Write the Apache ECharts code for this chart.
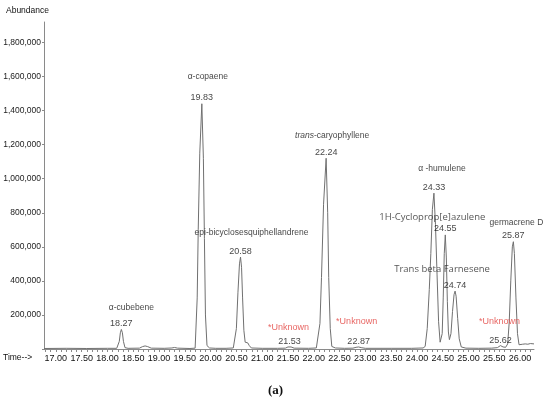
<!DOCTYPE html>
<html>
<head>
<meta charset="utf-8">
<script src="https://cdn.jsdelivr.net/npm/echarts@6/dist/echarts.min.js"></script>
<style>
  html, body { margin: 0; padding: 0; background: #fff; }
  #main { width: 550px; height: 405px; }
</style>
</head>
<body>
<div id="main"></div>
<script>
// retention time (min) and abundance of the trace
var traceTimes = [
  16.77, 17.2, 17.6, 18.0, 18.18,
  18.20, 18.23, 18.25, 18.27, 18.29, 18.31, 18.34, 18.40,
  18.62, 18.68, 18.73, 18.78, 18.85, 19.1, 19.25, 19.30, 19.36, 19.6, 19.70,
  19.71, 19.74, 19.76, 19.79, 19.83, 19.86, 19.88, 19.90, 19.93, 19.98,
  20.1, 20.3, 20.44,
  20.47, 20.50, 20.53, 20.56, 20.58, 20.60, 20.62, 20.645, 20.67, 20.70, 20.72, 20.75, 20.79,
  21.0, 21.3, 21.45, 21.50, 21.53, 21.56, 21.62, 21.9, 22.05,
  22.08, 22.12, 22.15, 22.19, 22.24, 22.27, 22.29, 22.32, 22.35, 22.42,
  22.6, 22.76, 22.82, 22.87, 22.92, 23.0, 23.5, 23.9, 24.12,
  24.16, 24.20, 24.24, 24.27, 24.30, 24.33, 24.36, 24.39, 24.42, 24.45, 24.47,
  24.49, 24.51, 24.53, 24.55, 24.57, 24.59, 24.61, 24.63,
  24.66, 24.69, 24.72, 24.74, 24.76, 24.79, 24.82, 24.86, 24.95,
  25.2, 25.45, 25.56, 25.62, 25.67, 25.72,
  25.76, 25.79, 25.82, 25.85, 25.87, 25.89, 25.92, 25.95, 25.98,
  26.0, 26.05, 26.1, 26.15, 26.2, 26.27
];
var traceAbundance = [
  3000, 4000, 3000, 4000, 4000,
  8000, 45000, 95000, 115000, 95000, 45000, 8000, 4000,
  5000, 14000, 18000, 14000, 5000, 4000, 6000, 9000, 5000, 3000, 5000,
  10000, 300000, 700000, 1150000, 1440000, 1120000, 650000, 200000, 20000, 6000,
  4000, 4000, 6000,
  15000, 120000, 330000, 500000, 540000, 480000, 300000, 110000, 40000, 35000, 36000, 20000, 6000,
  4000, 4000, 5000, 12000, 15000, 12000, 5000, 4000, 6000,
  15000, 150000, 420000, 850000, 1120000, 800000, 420000, 120000, 15000, 6000,
  4000, 5000, 10000, 12000, 8000, 4000, 4000, 4000, 6000,
  15000, 120000, 350000, 560000, 820000, 915000, 730000, 440000, 160000, 40000, 30000,
  90000, 300000, 560000, 670000, 540000, 280000, 100000, 55000,
  90000, 220000, 320000, 340000, 310000, 180000, 60000, 12000, 5000,
  4000, 5000, 8000, 20000, 12000, 10000,
  30000, 160000, 400000, 600000, 630000, 560000, 300000, 90000, 25000,
  22000, 28000, 30000, 28000, 32000, 30000
];

// identified peaks
var peakTimes = [18.27, 19.83, 20.58, 22.24, 24.33, 24.55, 24.74, 25.87];
var peakHeights = [115000, 1440000, 540000, 1120000, 915000, 670000, 340000, 630000];
var peakNames = ['α-cubebene', 'α-copaene', 'epi-bicyclosesquiphellandrene',
  '{i|trans}-caryophyllene', 'α -humulene', '1H-Cycloprop[e]azulene',
  'Trans beta Farnesene', 'germacrene D'];

// unidentified peaks
var unknownTimes = [21.53, 22.87, 25.62];
var unknownHeights = [15000, 12000, 20000];

// axis tick labels
var xLabelValues = [17.0, 17.5, 18.0, 18.5, 19.0, 19.5, 20.0, 20.5, 21.0, 21.5,
  22.0, 22.5, 23.0, 23.5, 24.0, 24.5, 25.0, 25.5, 26.0];

// label offsets (px) relative to the peak apex
var nameOffsets = [[10, -22], [6, -27], [11, -24], [6, -23], [8, -25], [-13, -18], [-13, -22], [3, -19]];
var unknownOffsets = [[-1, -19], [-2, -25], [-1, -24]];
var bigLabel = [false, false, false, false, false, true, true, false];

var minorTicks = [];
for (var t = 168; t <= 262; t++) minorTicks.push(t / 10);

var trace = traceTimes.map(function (t, i) { return [t, traceAbundance[i]]; });

var smallFont = '"Liberation Sans Narrow", "Liberation Sans", Arial, sans-serif';
var nameFont = '"Liberation Sans", Arial, sans-serif';

var nameData = peakTimes.map(function (t, i) {
  var big = bigLabel[i];
  return {
    value: [t, peakHeights[i]],
    label: {
      formatter: peakNames[i],
      offset: nameOffsets[i],
      fontFamily: big ? '"Open Sans", sans-serif' : nameFont,
      fontSize: big ? 9.5 : 8.5,
      color: big ? '#2a2a2a' : '#111'
    }
  };
});
var rtData = peakTimes.map(function (t, i) {
  return { value: [t, peakHeights[i]], label: { formatter: t.toFixed(2) } };
});
var unknownNameData = unknownTimes.map(function (t, i) {
  return { value: [t, unknownHeights[i]], label: { offset: unknownOffsets[i] } };
});
var unknownRtData = unknownTimes.map(function (t, i) {
  return { value: [t, unknownHeights[i]], label: { formatter: t.toFixed(2) } };
});

var chart = echarts.init(document.getElementById('main'));
var option = {
  animation: false,
  backgroundColor: '#fff',
  grid: { left: 44, right: 16, top: 22, bottom: 56, outerBoundsMode: 'none' },
  xAxis: {
    type: 'value',
    min: 16.77,
    max: 26.27,
    splitLine: { show: false },
    axisLine: { lineStyle: { color: '#8a8a8a', width: 1 } },
    axisTick: { customValues: minorTicks, length: 3, lineStyle: { color: '#8a8a8a' } },
    axisLabel: {
      customValues: xLabelValues,
      formatter: function (v) { return v.toFixed(2); },
      fontFamily: smallFont,
      fontSize: 9,
      color: '#111',
      margin: 5
    }
  },
  yAxis: {
    type: 'value',
    min: 0,
    max: 1920000,
    interval: 200000,
    splitLine: { show: false },
    axisLine: { show: true, lineStyle: { color: '#8a8a8a', width: 1 } },
    axisTick: { show: true, length: 2, lineStyle: { color: '#8a8a8a' } },
    axisLabel: {
      showMaxLabel: false,
      formatter: function (v) { return v === 0 ? '' : v.toLocaleString('en-US'); },
      fontFamily: nameFont,
      fontSize: 8.5,
      color: '#222',
      margin: 3
    }
  },
  graphic: [
    { type: 'text', left: 6, top: 6, style: { text: 'Abundance', font: '8.5px "Liberation Sans", Arial', fill: '#111' } },
    { type: 'text', left: 3, top: 353, style: { text: 'Time-->', font: '8.5px "Liberation Sans", Arial', fill: '#111' } },
    { type: 'text', left: 268, top: 384, style: { text: '(a)', font: 'bold 13px "Liberation Serif", serif', fill: '#111' } }
  ],
  series: [
    {
      type: 'line',
      data: trace,
      showSymbol: false,
      lineStyle: { color: '#707070', width: 1 },
      z: 2
    },
    {
      type: 'scatter',
      data: nameData,
      symbolSize: 0,
      itemStyle: { color: 'transparent' },
      label: {
        show: true,
        position: 'inside',
        rich: { i: { fontStyle: 'italic', fontFamily: nameFont, fontSize: 8.5, color: '#111' } }
      },
      z: 5
    },
    {
      type: 'scatter',
      data: rtData,
      symbolSize: 0,
      itemStyle: { color: 'transparent' },
      label: {
        show: true,
        position: 'inside',
        offset: [0, -6],
        fontFamily: smallFont,
        fontSize: 9,
        color: '#111'
      },
      z: 5
    },
    {
      type: 'scatter',
      data: unknownNameData,
      symbolSize: 0,
      itemStyle: { color: 'transparent' },
      label: {
        show: true,
        position: 'inside',
        formatter: '*Unknown',
        fontFamily: nameFont,
        fontSize: 9,
        color: '#e2403c'
      },
      z: 5
    },
    {
      type: 'scatter',
      data: unknownRtData,
      symbolSize: 0,
      itemStyle: { color: 'transparent' },
      label: {
        show: true,
        position: 'inside',
        offset: [0, -5],
        fontFamily: smallFont,
        fontSize: 9,
        color: '#111'
      },
      z: 5
    }
  ]
};
chart.setOption(option);
</script>
</body>
</html>
